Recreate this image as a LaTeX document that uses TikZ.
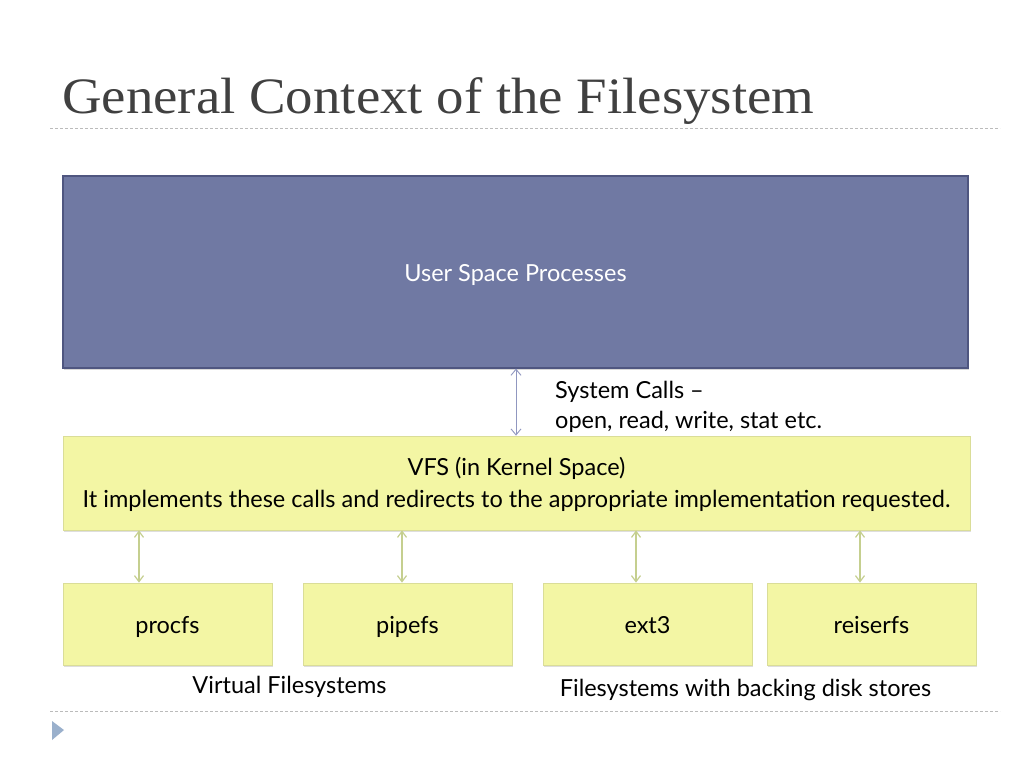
\documentclass[tikz,border=0pt]{standalone}
\usepackage{fontspec}
\setmainfont{Lato}
\newfontfamily\titlefont[FakeStretch=1.075]{Liberation Serif}
\usetikzlibrary{arrows.meta,shadows}
\definecolor{userfill}{HTML}{7079A3}
\definecolor{userdraw}{HTML}{4F5680}
\definecolor{yfill}{HTML}{F3F6A4}
\definecolor{ydraw}{HTML}{DADD98}
\definecolor{garrow}{HTML}{C5CF8F}
\definecolor{barrow}{HTML}{9097C0}
\definecolor{dashgray}{HTML}{BBBBBB}
\definecolor{tri}{HTML}{9AB0CC}
\definecolor{titlegray}{HTML}{404040}
\tikzset{
  bodytext/.style={font=\fontsize{23.5}{30}\selectfont, text=black, inner sep=0pt},
  userbox/.style={draw=userdraw, line width=1.2pt, fill=userfill, inner sep=0pt,
     drop shadow={shadow xshift=1pt, shadow yshift=-1.5pt, fill=black!30}},
  ybox/.style={draw=ydraw, line width=0.8pt, fill=yfill, inner sep=0pt,
     drop shadow={shadow xshift=1pt, shadow yshift=-2pt, fill=black!25}},
  fsbox/.style={ybox, minimum width=209pt, minimum height=82pt},
  fslabel/.style={bodytext, anchor=base},
  garr/.style={draw=garrow, line width=1.2pt, {Straight Barb[length=6pt,width=9pt]}-{Straight Barb[length=6pt,width=9pt]}},
  barr/.style={draw=barrow, line width=0.9pt, {Straight Barb[length=6pt,width=10pt]}-{Straight Barb[length=6pt,width=10pt]}},
  sep/.style={draw=dashgray, line width=0.8pt, dash pattern=on 3pt off 2pt},
}
\begin{document}
\begin{tikzpicture}[x=1pt,y=-1pt]
\useasboundingbox (0,0) rectangle (1024,768);
\fill[white] (0,0) rectangle (1024,768);
% title
\node[anchor=base west, inner sep=0pt, text=titlegray, font=\titlefont\fontsize{51}{60}\selectfont] (title) at (62,113) {General Context of the Filesystem};
\coordinate (s1a) at (50,128); \coordinate (s1b) at (1000,128);
\draw[sep] (s1a) -- (s1b);
% user space
\node[userbox, minimum width=905pt, minimum height=192pt] (user) at (515.5,272) {};
\node[bodytext, anchor=base, text=white] (usertext) at (515.5,281) {User Space Processes};
% VFS
\node[ybox, minimum width=907pt, minimum height=94pt] (vfs) at (516.5,483) {};
\node[fslabel] (vfs1) at (516.5,475) {VFS (in Kernel Space)};
\node[fslabel] (vfs2) at (516.5,507) {It implements these calls and redirects to the appropriate implementation requested.};
% system call arrow
\draw[barr] (user.south -| 516,0) -- (vfs.north -| 516,0);
\node[bodytext, anchor=base west] (sys1) at (555,398) {System Calls --};
\node[bodytext, anchor=base west] (sys2) at (555,428) {open, read, write, stat etc.};
% fs boxes
\node[fsbox] (procfs) at (167.5,624) {};
\node[fsbox] (pipefs) at (407.5,624) {};
\node[fsbox] (ext3) at (647.5,624) {};
\node[fsbox] (reiserfs) at (871.5,624) {};
\node[fslabel] (procfsl) at (167.5,633) {procfs};
\node[fslabel] (pipefsl) at (407.5,633) {pipefs};
\node[fslabel] (ext3l) at (647.5,633) {ext3};
\node[fslabel] (reiserfsl) at (871.5,633) {reiserfs};
% arrows
\draw[garr] (vfs.south -| 139,0) -- (procfs.north -| 139,0);
\draw[garr] (vfs.south -| 402,0) -- (pipefs.north -| 402,0);
\draw[garr] (vfs.south -| 636,0) -- (ext3.north -| 636,0);
\draw[garr] (vfs.south -| 860,0) -- (reiserfs.north -| 860,0);
% captions
\node[fslabel] (virt) at (289.5,693) {Virtual Filesystems};
\node[fslabel] (disk) at (745.5,696) {Filesystems with backing disk stores};
\coordinate (s2a) at (50,711); \coordinate (s2b) at (1000,711);
\draw[sep] (s2a) -- (s2b);
\fill[tri] (52,721) -- (64,730) -- (52,740) -- cycle;
\end{tikzpicture}
\end{document}
